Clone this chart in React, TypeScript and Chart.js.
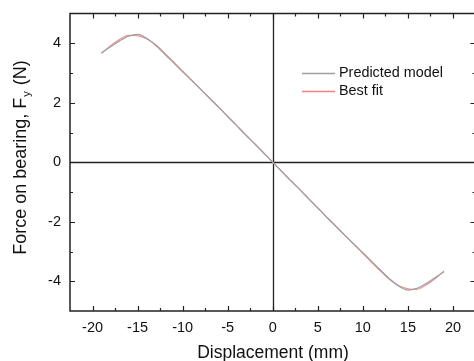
import React, { useEffect, useRef } from "react";
import { Chart, registerables } from "chart.js";

Chart.register(...registerables);

const xValues = [-19, -18, -17, -16, -15, -14, -13, -12, -11, -10, -9, -8, -7, -6, -5, -4, -3, -2, -1, 0, 1, 2, 3, 4, 5, 6, 7, 8, 9, 10, 11, 12, 13, 14, 15, 16, 17, 18, 19];
const predictedModel = [3.68, 3.88, 4.08, 4.24, 4.3, 4.17, 3.93, 3.64, 3.34, 3.04, 2.75, 2.45, 2.15, 1.85, 1.54, 1.23, 0.92, 0.62, 0.31, 0, -0.31, -0.62, -0.92, -1.23, -1.54, -1.85, -2.15, -2.45, -2.75, -3.04, -3.34, -3.64, -3.93, -4.17, -4.3, -4.24, -4.08, -3.88, -3.68];
const bestFit = [3.65, 3.92, 4.13, 4.27, 4.25, 4.15, 3.95, 3.67, 3.37, 3.06, 2.76, 2.46, 2.15, 1.85, 1.54, 1.23, 0.92, 0.62, 0.31, 0, -0.31, -0.62, -0.92, -1.23, -1.54, -1.85, -2.15, -2.46, -2.76, -3.06, -3.37, -3.67, -3.95, -4.15, -4.25, -4.27, -4.13, -3.92, -3.65];
const seriesLabels = ["Predicted model", "Best fit"];
const xTicks = [-20, -15, -10, -5, 0, 5, 10, 15, 20];
const xMinorTicks = [-17.5, -12.5, -7.5, -2.5, 2.5, 7.5, 12.5, 17.5];
const yTicks = [-4, -2, 0, 2, 4];
const yMinorTicks = [-3, -1, 1, 3];
const xTitle = "Displacement (mm)";
const yTitleMain = "Force on bearing, F";
const yTitleSub = "y";
const yTitleEnd = " (N)";

const FONT = "'Liberation Sans', Arial, sans-serif";
const INK = "#111111";

const framePlugin = {
  id: "framePlugin",
  beforeDatasetsDraw(chart: any) {
    const { ctx, chartArea: a, scales } = chart;
    const x0 = Math.round(scales.x.getPixelForValue(0)) + 0.5;
    const y0 = Math.round(scales.y.getPixelForValue(0)) + 0.5;
    ctx.save();
    ctx.strokeStyle = "#222";
    ctx.lineWidth = 1.3;
    ctx.beginPath();
    ctx.moveTo(x0, a.top);
    ctx.lineTo(x0, a.bottom);
    ctx.moveTo(a.left, y0);
    ctx.lineTo(a.right, y0);
    ctx.stroke();
    ctx.restore();
  },
  afterDatasetsDraw(chart: any) {
    const { ctx, chartArea: a, scales } = chart;
    ctx.save();
    ctx.strokeStyle = "#222";
    ctx.lineWidth = 1.5;
    ctx.strokeRect(a.left, a.top, a.right - a.left, a.bottom - a.top);
    ctx.lineWidth = 1.2;
    ctx.beginPath();
    const tx = (v: number, len: number) => {
      const p = Math.round(scales.x.getPixelForValue(v)) + 0.5;
      ctx.moveTo(p, a.bottom);
      ctx.lineTo(p, a.bottom - len);
      ctx.moveTo(p, a.top);
      ctx.lineTo(p, a.top + len);
    };
    const ty = (v: number, len: number) => {
      const p = Math.round(scales.y.getPixelForValue(v)) + 0.5;
      ctx.moveTo(a.left, p);
      ctx.lineTo(a.left + len, p);
      ctx.moveTo(a.right, p);
      ctx.lineTo(a.right - len, p);
    };
    xTicks.forEach((v) => tx(v, 5));
    xMinorTicks.forEach((v) => tx(v, 3));
    yTicks.forEach((v) => ty(v, 5));
    yMinorTicks.forEach((v) => ty(v, 3));
    ctx.stroke();
    ctx.restore();
  },
  afterDraw(chart: any) {
    const { ctx, chartArea: a } = chart;
    ctx.save();
    ctx.fillStyle = INK;
    ctx.font = `17.5px ${FONT}`;
    ctx.textAlign = "center";
    ctx.textBaseline = "middle";
    ctx.fillText(xTitle, (a.left + 475) / 2 + 0.5, 353);
    ctx.translate(20, 158);
    ctx.rotate(-Math.PI / 2);
    const mainFont = `18px ${FONT}`;
    const subFont = `11px ${FONT}`;
    ctx.font = mainFont;
    const w1 = ctx.measureText(yTitleMain).width;
    const w3 = ctx.measureText(yTitleEnd).width;
    ctx.font = subFont;
    const w2 = ctx.measureText(yTitleSub).width + 1;
    const total = w1 + w2 + w3;
    let cx = -total / 2;
    ctx.textAlign = "left";
    ctx.textBaseline = "alphabetic";
    ctx.font = mainFont;
    ctx.fillText(yTitleMain, cx, 6);
    cx += w1 + 1;
    ctx.font = subFont;
    ctx.fillText(yTitleSub, cx, 10);
    cx += w2;
    ctx.font = mainFont;
    ctx.fillText(yTitleEnd, cx, 6);
    ctx.restore();

    ctx.save();
    ctx.font = `14.4px ${FONT}`;
    ctx.textBaseline = "middle";
    ctx.textAlign = "left";
    const rows = [73, 91];
    chart.data.datasets.forEach((ds: any, i: number) => {
      const y = rows[i] + 0.5;
      ctx.strokeStyle = ds.borderColor;
      ctx.lineWidth = 1.3;
      ctx.beginPath();
      ctx.moveTo(302, y);
      ctx.lineTo(335, y);
      ctx.stroke();
      ctx.fillStyle = INK;
      ctx.fillText(ds.label, 339, y);
    });
    ctx.restore();
  },
};

export default function App() {
  const ref = useRef<HTMLCanvasElement | null>(null);
  useEffect(() => {
    if (!ref.current) return;
    const chart = new Chart(ref.current, {
      type: "line",
      data: {
        datasets: [
          {
            label: seriesLabels[0],
            data: xValues.map((x, i) => ({ x, y: predictedModel[i] })),
            borderColor: "#a0a0a0",
            borderWidth: 1.3,
            pointRadius: 0,
            cubicInterpolationMode: "monotone",
            fill: false,
          },
          {
            label: seriesLabels[1],
            data: xValues.map((x, i) => ({ x, y: bestFit[i] })),
            borderColor: "#f28484",
            borderWidth: 1.1,
            pointRadius: 0,
            cubicInterpolationMode: "monotone",
            fill: false,
          },
        ],
      },
      options: {
        animation: false,
        responsive: false,
        maintainAspectRatio: false,
        devicePixelRatio: 1,
        layout: { autoPadding: false, padding: { top: 13.5, right: 24.5, left: 0, bottom: 0 } },
        plugins: { legend: { display: false }, tooltip: { enabled: false } },
        scales: {
          x: {
            type: "linear",
            min: -22.5,
            max: 22.5,
            grid: { display: false, drawTicks: false },
            border: { display: false },
            afterBuildTicks: (s: any) => {
              s.ticks = xTicks.map((v) => ({ value: v }));
            },
            afterFit: (s: any) => {
              s.height = 50;
              s.paddingLeft = 0;
              s.paddingRight = 0;
            },
            ticks: {
              padding: 8,
              color: INK,
              font: { family: FONT, size: 14.5 },
              maxRotation: 0,
              autoSkip: false,
            },
          },
          y: {
            type: "linear",
            min: -5,
            max: 5,
            grid: { display: false, drawTicks: false },
            border: { display: false },
            afterBuildTicks: (s: any) => {
              s.ticks = yTicks.map((v) => ({ value: v }));
            },
            afterFit: (s: any) => {
              s.width = 70;
              s.paddingTop = 0;
              s.paddingBottom = 0;
            },
            ticks: {
              padding: 9,
              color: INK,
              font: { family: FONT, size: 14.5 },
              autoSkip: false,
            },
          },
        },
      },
      plugins: [framePlugin],
    } as any);
    return () => chart.destroy();
  }, []);
  return (
    <div style={{ position: "absolute", left: 0, top: 0, width: 474, height: 361, overflow: "hidden", background: "#fff" }}>
      <canvas ref={ref} width={500} height={361} style={{ width: 500, height: 361, display: "block" }} />
    </div>
  );
}
